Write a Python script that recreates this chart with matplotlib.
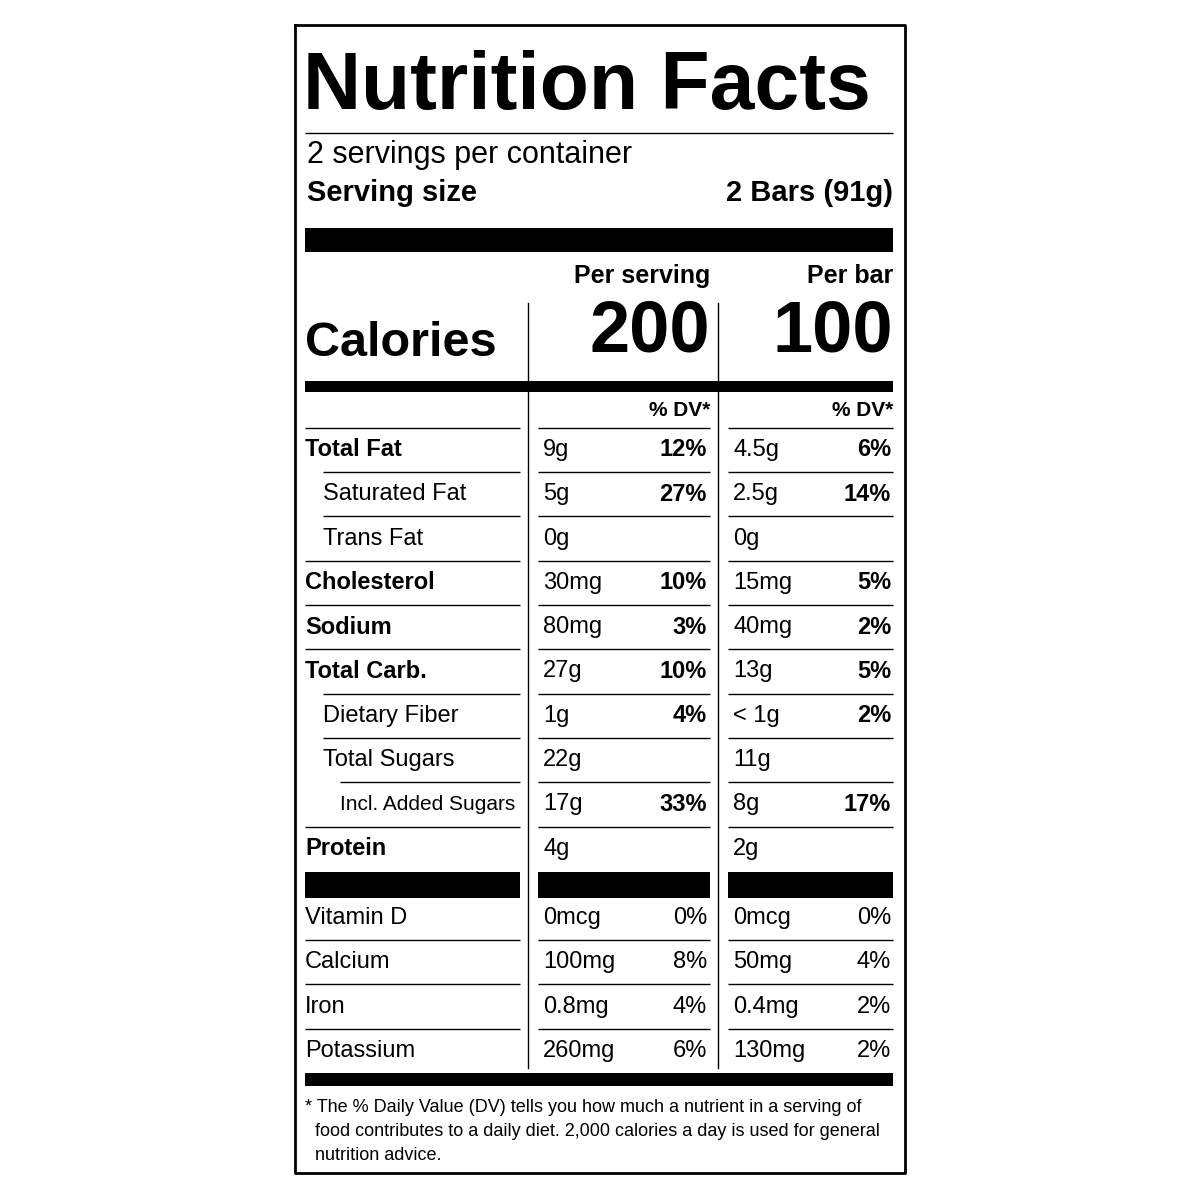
import matplotlib
matplotlib.use("Agg")
import matplotlib.pyplot as plt

nutrients = ["Total Fat", "Saturated Fat", "Trans Fat", "Cholesterol", "Sodium",
             "Total Carb.", "Dietary Fiber", "Total Sugars", "Incl. Added Sugars", "Protein"]
indent = [0, 1, 1, 0, 0, 0, 1, 1, 2, 0]
bold_rows = [True, False, False, True, True, True, False, False, False, True]
serv_amt = ["9g", "5g", "0g", "30mg", "80mg", "27g", "1g", "22g", "17g", "4g"]
serv_dv = ["12%", "27%", "", "10%", "3%", "10%", "4%", "", "33%", ""]
bar_amt = ["4.5g", "2.5g", "0g", "15mg", "40mg", "13g", "< 1g", "11g", "8g", "2g"]
bar_dv = ["6%", "14%", "", "5%", "2%", "5%", "2%", "", "17%", ""]
vitamins = ["Vitamin D", "Calcium", "Iron", "Potassium"]
vit_serv_amt = ["0mcg", "100mg", "0.8mg", "260mg"]
vit_serv_dv = ["0%", "8%", "4%", "6%"]
vit_bar_amt = ["0mcg", "50mg", "0.4mg", "130mg"]
vit_bar_dv = ["0%", "4%", "2%", "2%"]
calories = ["200", "100"]
footnote = ["* The % Daily Value (DV) tells you how much a nutrient in a serving of",
            "  food contributes to a daily diet. 2,000 calories a day is used for general",
            "  nutrition advice."]

FAM = ["Liberation Sans Narrow", "Liberation Sans", "DejaVu Sans"]
fig = plt.figure(figsize=(12, 12), dpi=100)
ax = fig.add_axes([0, 0, 1, 1])
ax.set_xlim(0, 1200); ax.set_ylim(1200, 0); ax.axis("off")

def T(x, y, s, size, bold=False, ha="left"):
    ax.text(x, y, s, fontsize=size, fontweight="bold" if bold else "normal",
            ha=ha, va="center", family=FAM, color="black")

def H(y, x0, x1, lw):
    ax.plot([x0, x1], [y, y], color="black", lw=lw, solid_capstyle="butt")

def box(x0, x1, y0, y1):
    ax.fill_between([x0, x1], y0, y1, color="black", lw=0)

ax.plot([295, 905, 905, 295, 295], [25, 25, 1173, 1173, 25], color="black", lw=2)
T(303, 88, "Nutrition Facts", 58, True)
H(133, 305, 893, 1)
T(307, 155, "2 servings per container", 22)
T(307, 193, "Serving size", 21, True)
T(893, 193, "2 Bars (91g)", 21, True, "right")
box(305, 893, 228, 252)
T(710, 276, "Per serving", 18, True, "right")
T(893, 276, "Per bar", 18, True, "right")
T(305, 343, "Calories", 35, True)
T(710, 333, calories[0], 52, True, "right")
T(893, 333, calories[1], 52, True, "right")
box(305, 893, 381, 392)
for x in (528, 718):
    ax.plot([x, x], [303, 1068], color="black", lw=1)
T(710, 411, "% DV*", 15, True, "right")
T(893, 411, "% DV*", 15, True, "right")
H(428, 305, 520, 1); H(428, 538, 710, 1); H(428, 728, 893, 1)

y0, dy = 450, 44.3
ind_px = [0, 18, 35]
for i, n in enumerate(nutrients):
    y = y0 + i * dy
    T(305 + ind_px[indent[i]], y, n, 15 if indent[i] == 2 else 17, bold_rows[i])
    T(543, y, serv_amt[i], 17)
    T(707, y, serv_dv[i], 17, True, "right")
    T(733, y, bar_amt[i], 17)
    T(891, y, bar_dv[i], 17, True, "right")
    if i < len(nutrients) - 1:
        ly = y + dy / 2
        H(ly, 305 + ind_px[indent[i + 1]], 520, 1)
        H(ly, 538, 710, 1); H(ly, 728, 893, 1)

box(305, 520, 872, 898); box(538, 710, 872, 898); box(728, 893, 872, 898)
for i, v in enumerate(vitamins):
    y = 918 + i * dy
    T(305, y, v, 17)
    T(543, y, vit_serv_amt[i], 17)
    T(707, y, vit_serv_dv[i], 17, False, "right")
    T(733, y, vit_bar_amt[i], 17)
    T(891, y, vit_bar_dv[i], 17, False, "right")
    if i < len(vitamins) - 1:
        ly = y + dy / 2
        H(ly, 305, 520, 1); H(ly, 538, 710, 1); H(ly, 728, 893, 1)
box(305, 893, 1073, 1086)
for i, line in enumerate(footnote):
    T(305, 1107 + i * 24, line, 13)

fig.savefig("out.png", dpi=100)
